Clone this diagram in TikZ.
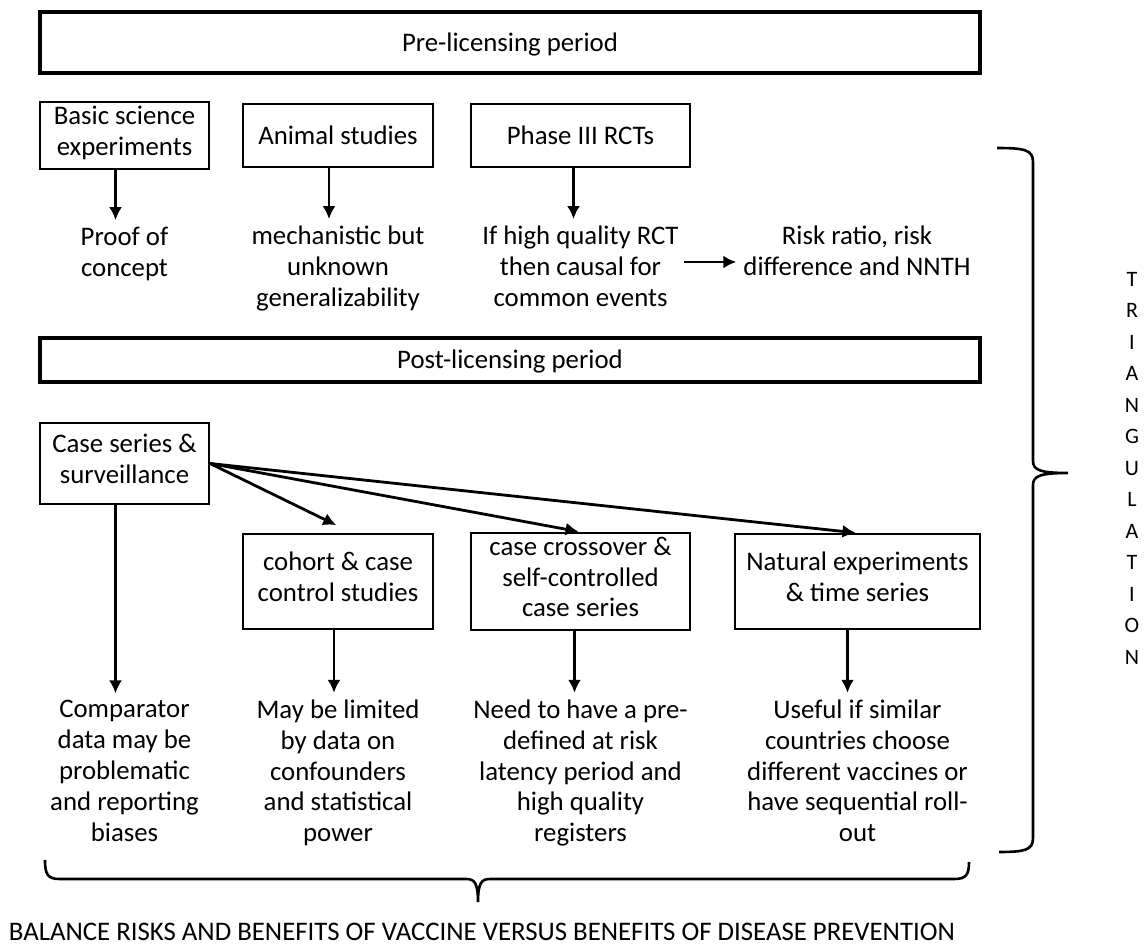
\documentclass[tikz,border=0pt]{standalone}
\usepackage{fontspec}
\setmainfont{Carlito}
\usetikzlibrary{arrows.meta, positioning}

\begin{document}
\begin{tikzpicture}[x=0.5pt, y=-0.5pt, ->, >={Latex[length=6.5pt,width=6.5pt]}, shorten >=1pt, line width=1.2pt,
		font=\fontsize{13.4}{15.4}\selectfont]
		\tikzstyle{every node}=[align=center, inner sep=2pt, text=black, execute at begin node=\strut, execute at end node=\strut]
		\tikzstyle{period}=[draw, line width=1.75pt, minimum width=470pt, execute at begin node={\rule{0pt}{13.5pt}}, execute at end node={}]
		\tikzstyle{study}=[draw, line width=1pt, execute at begin node={\rule{0pt}{13.5pt}}, execute at end node={}]
		
		\useasboundingbox (0,0) rectangle (1145,946);
		
		\node[period, minimum height=30.5pt] (pre) at (510,42.5) {Pre-licensing period};
		\node[study, minimum width=84.5pt, minimum height=31.5pt] (basic) at (124.5,135.5) {Basic science\\experiments};
		\node[study, minimum width=95pt, minimum height=31.5pt] (animal) [right of=basic, node distance=106.75pt] {Animal studies};
		\node[study, minimum width=109.5pt, minimum height=31.5pt] (phase) [right of=animal, node distance=121.25pt] {Phase III RCTs};
		
		\node (proof) [below of=basic, node distance=60.5pt] {Proof of\\concept};
		\node (mech) [below of=animal, node distance=67.75pt] {mechanistic but\\unknown\\generalizability};
		\node (causal) [below of=phase, node distance=67.75pt] {If high quality RCT\\then causal for\\common events};
		\node (risk) [right of=causal, node distance=138.25pt, yshift=7.75pt] {Risk ratio, risk\\difference and NNTH};
		
		\node[period, minimum height=21pt] (post) [below of=pre, node distance=158.75pt] {Post-licensing period};
		\node[study, minimum width=84.5pt, minimum height=40.5pt] (cases) [below of=basic, node distance=164pt] {Case series \&\\surveillance};
		\node[study, minimum width=95pt, minimum height=47.5pt] (cohort) [below of=animal, node distance=223pt] {cohort \& case\\control studies};
		\node[study, minimum width=109.5pt, minimum height=47.5pt] (cross) [below of=phase, node distance=223pt] {case crossover \&\\self-controlled\\case series};
		\node[study, minimum width=122.5pt, minimum height=47.5pt] (natural) [right of=cross, node distance=138.5pt] {Natural experiments\\\& time series};
		
		\node (compar) [below of=cases, node distance=156pt] {Comparator\\data may be\\problematic\\and reporting\\biases};
		\node (limited) [below of=cohort, node distance=97pt] {May be limited\\by data on\\confounders\\and statistical\\power};
		\node (predef) [below of=cross, node distance=97pt] {Need to have a pre-\\defined at risk\\latency period and\\high quality\\registers};
		\node (useful) [below of=natural, node distance=97pt] {Useful if similar\\countries choose\\different vaccines or\\have sequential roll-\\out};
		
		\node[execute at begin node={}, execute at end node={}] (balance) at (482,934) {BALANCE RISKS AND BENEFITS OF VACCINE VERSUS BENEFITS OF DISEASE PREVENTION};
		\node[font=\fontsize{11}{15.75}\selectfont] (triang) at (1132,473) {T\\R\\I\\A\\N\\G\\U\\L\\A\\T\\I\\O\\N};
		
		\path ([xshift=-4.5pt]basic.south) edge ([xshift=-4.5pt]proof.north)
		([xshift=-4.5pt]animal.south) edge ([xshift=-4.5pt]mech.north)
		([xshift=-3.5pt]phase.south) edge ([xshift=-3.5pt]causal.north)
		([yshift=4.5pt]causal.east) edge ([yshift=-3.25pt]risk.west);
		
		\path[line width=1.4pt] (cases.east) edge ([yshift=3.5pt]cohort.north)
		(cases.east) edge (cross.north)
		(cases.east) edge (natural.north);
		
		\path ([xshift=-4.5pt]cases.south) edge ([xshift=-4.5pt]compar.north)
		([xshift=-2pt]cohort.south) edge ([xshift=-2pt]limited.north)
		([xshift=-3pt]cross.south) edge ([xshift=-3pt]predef.north)
		([xshift=-5pt]natural.south) edge ([xshift=-5pt]useful.north);
		
		\draw[-, line width=1.3pt] (45,860) .. controls (45,875) and (48,879) .. (60,879) -- (466,879)
		.. controls (474,879) and (478,882) .. (478,902) .. controls (478,882) and (482,879) .. (490,879)
		-- (954,879) .. controls (966,879) and (969,875) .. (969,860);
		\draw[-, line width=1.3pt] (997,148) .. controls (1025,148) and (1033,150) .. (1033,162) -- (1033,461)
		.. controls (1033,470) and (1040,473) .. (1068,473) .. controls (1040,473) and (1033,476) .. (1033,485)
		-- (1033,838) .. controls (1033,850) and (1025,852) .. (997,852);
	\end{tikzpicture}
\end{document}
